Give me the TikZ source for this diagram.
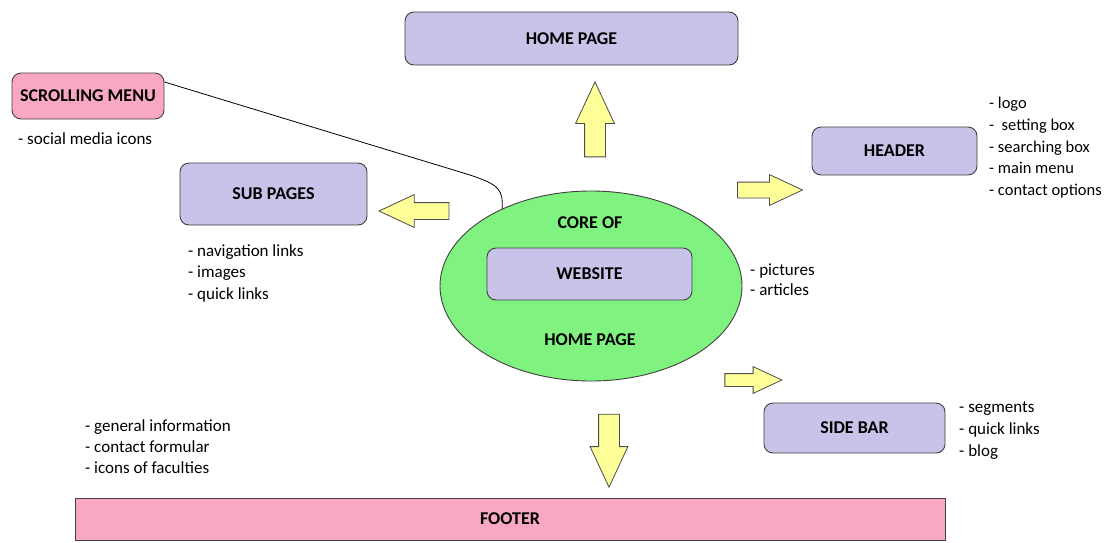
\documentclass[tikz,border=0pt]{standalone}
\usepackage{fontspec}
\setmainfont{Carlito}
\usetikzlibrary{shapes.geometric,shapes.arrows}
\definecolor{boxlav}{RGB}{200,195,232}
\definecolor{pagepink}{RGB}{249,168,196}
\definecolor{coregreen}{RGB}{128,242,128}
\definecolor{arrowyellow}{RGB}{255,255,153}
\begin{document}
\begin{tikzpicture}[x=1pt,y=-1pt,
    pagebox/.style={draw=black!75,line width=0.9pt,fill=boxlav,rounded corners=9pt,
      inner sep=0pt,font=\bfseries\fontsize{18}{20}\selectfont},
    boldtext/.style={inner sep=0pt,font=\bfseries\fontsize{18}{20}\selectfont},
    listtext/.style={align=left,inner sep=0pt,anchor=north west,
      font=\fontsize{17}{21.5}\selectfont},
    yarrow/.style={single arrow,draw=black!70,line width=0.8pt,fill=arrowyellow,
      inner xsep=0pt,single arrow tip angle=50}]
  \path[fill=white,use as bounding box] (0,0) rectangle (1108,542);

  % pages round the core
  \node[pagebox,minimum width=333pt,minimum height=53pt] (home) at (571.5,38.5) {HOME PAGE};
  \node[pagebox,fill=pagepink,minimum width=152pt,minimum height=46pt] (scroll) at (88,96) {SCROLLING MENU};
  \node[pagebox,minimum width=187pt,minimum height=62pt] (sub) at (273.5,194) {SUB PAGES};
  \node[pagebox,minimum width=165pt,minimum height=48pt] (header) at (894.5,151) {HEADER};
  \node[pagebox,minimum width=181pt,minimum height=50pt] (side) at (854.5,428) {SIDE BAR};
  \node[pagebox,fill=pagepink,rounded corners=0pt,line width=1pt,
    minimum width=870pt,minimum height=42pt] (footer) at (510,519) {FOOTER};

  % core of the website
  \node[ellipse,draw=black!75,line width=0.9pt,fill=coregreen,inner sep=0pt,
    minimum width=302pt,minimum height=190pt] (core) at (591,286) {};
  \node[boldtext] (coreof) at (590,223) {CORE OF};
  \node[pagebox,minimum width=205pt,minimum height=52pt] (website) at (589.5,274) {WEBSITE};
  \node[boldtext] (corehome) at (590,340) {HOME PAGE};

  % block arrows
  \node[yarrow,rotate=90,minimum height=75pt,inner ysep=10pt,single arrow head extend=9pt] (uparrow) at (595,130.5) {};
  \node[yarrow,rotate=180,minimum height=70pt,inner ysep=8pt,single arrow head extend=8pt] (subarrow) at (423,211) {};
  \node[yarrow,minimum height=65pt,inner ysep=7.5pt,single arrow head extend=7.5pt] (headarrow) at (761.5,190) {};
  \node[yarrow,minimum height=57pt,inner ysep=6pt,single arrow head extend=7pt] (sidearrow) at (746.5,380) {};
  \node[yarrow,rotate=-90,minimum height=73pt,inner ysep=10pt,single arrow head extend=8.5pt] (downarrow) at (609,439.5) {};

  % lists
  \node[listtext] (scrolllist) at (18,132) {- social media icons};
  \node[listtext] (sublist) at (188,244) {- navigation links\\- images\\- quick links};
  \node[listtext,font=\fontsize{16.5}{21.7}\selectfont] (headlist) at (989,97)
    {- logo\\-\ \ setting box\\- searching box\\- main menu\\- contact options};
  \node[listtext,font=\fontsize{17}{20}\selectfont] (corelist) at (750,264) {- pictures\\- articles};
  \node[listtext,font=\fontsize{17}{22}\selectfont] (sidelist) at (959,402) {- segments\\- quick links\\- blog};
  \node[listtext,font=\fontsize{17}{21}\selectfont] (footlist) at (85,419)
    {- general information\\- contact formular\\- icons of faculties};

  % line from the scrolling menu
  \draw[line width=0.8pt] ([yshift=14pt]scroll.east) -- (470,175)
    .. controls (500,185) and (503,190) .. (core.139);
\end{tikzpicture}
\end{document}
